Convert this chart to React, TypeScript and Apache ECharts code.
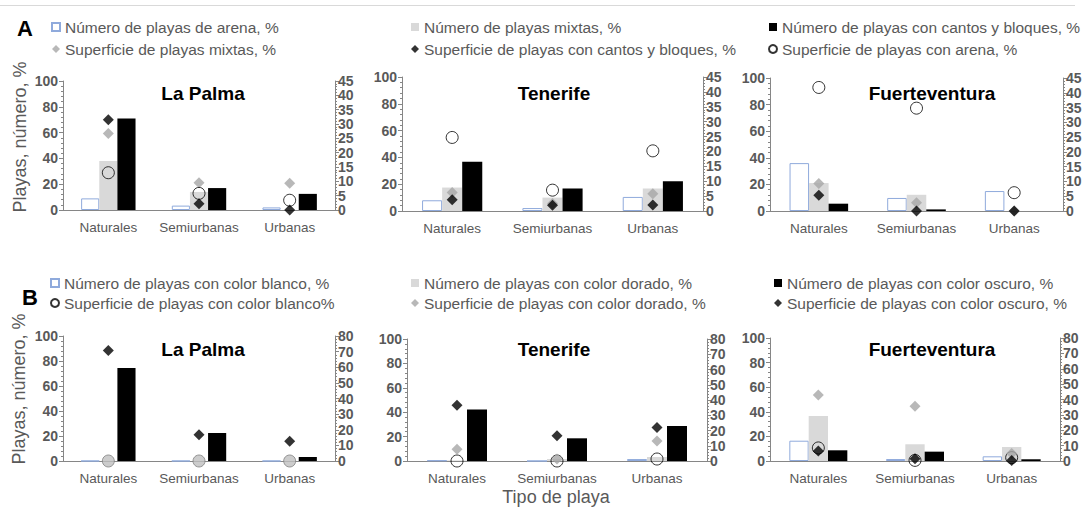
import React, { useEffect, useRef } from "react";
import * as echarts from "echarts";

const FONT = '"Liberation Sans", Arial, Helvetica, sans-serif';

const categories = ["Naturales", "Semiurbanas", "Urbanas"];
const islands = ["La Palma", "Tenerife", "Fuerteventura"];

// Row A series names
const namesBarA = [
  "Número de playas de arena, %",
  "Número de playas mixtas, %",
  "Número de playas con cantos y bloques, %",
];
const namesDotA = [
  "Superficie de playas mixtas, %",
  "Superficie de playas con cantos y bloques, %",
  "Superficie de playas con arena, %",
];
// Row B series names
const namesBarB = [
  "Número de playas con color blanco, %",
  "Número de playas con color dorado, %",
  "Número de playas con color oscuro, %",
];
const namesDotB = [
  "Superficie de playas con color blanco%",
  "Superficie de playas con color dorado, %",
  "Superficie de playas con color oscuro, %",
];

// Row A values, one row per island (La Palma, Tenerife, Fuerteventura)
const numArenaA = [[9, 3.4, 2], [8, 2.2, 10.5], [36, 9.8, 15]];
const numMixtasA = [[38, 14, 0], [17.5, 10, 16.8], [21, 12.2, 0]];
const numCantosA = [[71, 17, 12.5], [36.8, 16.8, 22.2], [5.5, 1.2, 0]];
const supMixtasA = [[26.7, 9.5, 9.3], [6.2, 2.5, 5.8], [9.3, 2.8, 0]];
const supCantosA = [[31.5, 2.2, 0], [3.8, 1.9, 2], [5.3, 0, 0]];
const supArenaA = [[13, 5.8, 3.4], [24.7, 7, 20.2], [41.8, 34.8, 6.2]];

// Row B values
const numBlancoB = [[0, 0, 0], [0.5, 0, 1.6], [16.5, 1.6, 3.8]];
const numDoradoB = [[0, 0, 0], [0.5, 1.6, 3.3], [36.6, 13.6, 11.4]];
const numOscuroB = [[74.4, 22.4, 3.2], [42.3, 18.6, 28.7], [8.7, 7.6, 1.4]];
const supBlancoB = [[0, 0, 0], [0, 0, 1.3], [8.5, 0.4, 2.2]];
const supDoradoB = [[null, null, null], [7.7, 1.3, 13.1], [43, 35.6, 4.8]];
const supOscuroB = [[70.8, 16.8, 12.6], [36.5, 16.6, 22], [6.5, 1.5, 0.4]];

const leftTicks = { min: 0, max: 100, interval: 20 };
const rightTicksA = { min: 0, max: 45, interval: 5 };
const rightTicksB = { min: 0, max: 80, interval: 10 };

const GRIDS = [
  { left: 63, top: 81, width: 272, height: 129 },
  { left: 402, top: 77, width: 301, height: 134 },
  { left: 770, top: 78, width: 293, height: 133 },
  { left: 63, top: 336, width: 272, height: 125 },
  { left: 407, top: 339, width: 300, height: 122 },
  { left: 770, top: 338, width: 290, height: 123 },
];

const AXIS_GRAY = "#868686";
const TEXT_GRAY = "#595959";

const barStyles = [
  { color: "#ffffff", borderColor: "#8FAADC", borderWidth: 1 },
  { color: "#D9D9D9" },
  { color: "#000000" },
];
const grayDiamond = { symbol: "diamond", symbolSize: 11, itemStyle: { color: "#A6A6A6" } };
const blackDiamond = { symbol: "diamond", symbolSize: 11, itemStyle: { color: "#000000" } };
const openCircle = {
  symbol: "circle",
  symbolSize: 12,
  itemStyle: { color: "rgba(255,255,255,0)", borderColor: "#000000", borderWidth: 1 },
};

export default function App() {
  const ref = useRef<HTMLDivElement>(null);
  useEffect(() => {
    if (!ref.current) return;
    const chart = echarts.init(ref.current, undefined, { renderer: "svg" });

    const xAxis = GRIDS.map((_, i) => ({
      type: "category",
      gridIndex: i,
      data: categories,
      axisLine: { lineStyle: { color: AXIS_GRAY, width: 1 } },
      axisTick: { show: false },
      axisLabel: { color: TEXT_GRAY, fontSize: 13.5, margin: 10, interval: 0, hideOverlap: false, fontFamily: FONT },
    }));

    const yAxis: any[] = [];
    GRIDS.forEach((_, i) => {
      const rt = i < 3 ? rightTicksA : rightTicksB;
      yAxis.push({
        type: "value",
        gridIndex: i,
        position: "left",
        ...leftTicks,
        axisLine: { show: true, lineStyle: { color: AXIS_GRAY } },
        axisTick: { show: true, length: 4, lineStyle: { color: AXIS_GRAY } },
        minorTick: { show: true, splitNumber: 5, length: 2, lineStyle: { color: AXIS_GRAY } },
        splitLine: { show: false },
        axisLabel: { color: TEXT_GRAY, fontSize: 14, fontWeight: "bold", margin: 5, fontFamily: FONT },
      });
      yAxis.push({
        type: "value",
        gridIndex: i,
        position: "right",
        ...rt,
        axisLine: { show: true, lineStyle: { color: AXIS_GRAY } },
        axisTick: { show: true, length: 4, lineStyle: { color: AXIS_GRAY } },
        minorTick: { show: true, splitNumber: 5, length: 2, lineStyle: { color: AXIS_GRAY } },
        splitLine: { show: false },
        axisLabel: { color: TEXT_GRAY, fontSize: 14, fontWeight: "bold", margin: 3, fontFamily: FONT },
      });
    });

    const series: any[] = [];
    for (let p = 0; p < 6; p++) {
      const isl = p % 3;
      const rowA = p < 3;
      const barData = rowA
        ? [numArenaA[isl], numMixtasA[isl], numCantosA[isl]]
        : [numBlancoB[isl], numDoradoB[isl], numOscuroB[isl]];
      const barNames = rowA ? namesBarA : namesBarB;
      barData.forEach((d, k) => {
        series.push({
          type: "bar",
          name: barNames[k],
          xAxisIndex: p,
          yAxisIndex: 2 * p,
          data: d,
          barGap: "0%",
          barCategoryGap: "40%",
          itemStyle: barStyles[k],
          z: 2,
        });
      });
      const dotData = rowA
        ? [supMixtasA[isl], supCantosA[isl], supArenaA[isl]]
        : [supBlancoB[isl], supDoradoB[isl], supOscuroB[isl]];
      const dotNames = rowA ? namesDotA : namesDotB;
      const dotStyles = rowA
        ? [grayDiamond, blackDiamond, openCircle]
        : [openCircle, grayDiamond, blackDiamond];
      dotData.forEach((d, k) => {
        const st = dotStyles[k];
        const isCircleLP = !rowA && isl === 0 && st === openCircle;
        series.push({
          type: "scatter",
          name: dotNames[k],
          xAxisIndex: p,
          yAxisIndex: 2 * p + 1,
          symbol: st.symbol,
          symbolSize: st.symbolSize,
          itemStyle: st.itemStyle,
          data: isCircleLP
            ? d.map((v) => ({ value: v, itemStyle: { color: "#BFBFBF", borderColor: "#7F7F7F", borderWidth: 1 } }))
            : d,
          clip: false,
          z: 3 + k,
        });
      });
    }

    const legendBase = {
      orient: "vertical",
      itemWidth: 8,
      itemHeight: 8,
      selectedMode: false,
      textStyle: { color: TEXT_GRAY, fontSize: 15.5, fontFamily: FONT },
      padding: 0,
    };
    const legend = [
      { ...legendBase, left: 51, top: 19, itemGap: 6, data: [{ name: namesBarA[0], icon: "rect" }, { name: namesDotA[0] }] },
      { ...legendBase, left: 411, top: 19, itemGap: 6, data: [{ name: namesBarA[1], icon: "rect" }, { name: namesDotA[1] }] },
      { ...legendBase, left: 768, top: 19, itemGap: 6, data: [{ name: namesBarA[2], icon: "rect" }, { name: namesDotA[2] }] },
      { ...legendBase, left: 50, top: 275, itemGap: 4, data: [{ name: namesBarB[0], icon: "rect" }, { name: namesDotB[0] }] },
      { ...legendBase, left: 411, top: 275, itemGap: 4, data: [{ name: namesBarB[1], icon: "rect" }, { name: namesDotB[1] }] },
      { ...legendBase, left: 774, top: 275, itemGap: 4, data: [{ name: namesBarB[2], icon: "rect" }, { name: namesDotB[2] }] },
    ];

    const titleX = [203, 554, 932];
    const titleY = [93, 349];
    const graphic: any[] = [
      {
        type: "line",
        shape: { x1: 0, y1: 5.5, x2: 1075, y2: 5.5 },
        style: { stroke: "#D9D9D9", lineWidth: 1 },
      },
      {
        type: "text",
        x: 17,
        y: 28,
        style: { text: "A", fill: "#000", font: `bold 22px ${FONT}`, align: "left", verticalAlign: "middle", textAlign: "left", textVerticalAlign: "middle" },
      },
      {
        type: "text",
        x: 22,
        y: 297,
        style: { text: "B", fill: "#000", font: `bold 22px ${FONT}`, align: "left", verticalAlign: "middle", textAlign: "left", textVerticalAlign: "middle" },
      },
      {
        type: "text",
        x: 20,
        y: 137,
        rotation: Math.PI / 2,
        style: { text: "Playas, número, %", fill: TEXT_GRAY, font: `18px ${FONT}`, align: "center", verticalAlign: "middle", textAlign: "center", textVerticalAlign: "middle" },
      },
      {
        type: "text",
        x: 19,
        y: 389,
        rotation: Math.PI / 2,
        style: { text: "Playas, número, %", fill: TEXT_GRAY, font: `18px ${FONT}`, align: "center", verticalAlign: "middle", textAlign: "center", textVerticalAlign: "middle" },
      },
      {
        type: "text",
        x: 556,
        y: 497,
        style: { text: "Tipo de playa", fill: TEXT_GRAY, font: `18px ${FONT}`, align: "center", verticalAlign: "middle", textAlign: "center", textVerticalAlign: "middle" },
      },
    ];
    titleY.forEach((ty) => {
      islands.forEach((name, i) => {
        graphic.push({
          type: "text",
          x: titleX[i],
          y: ty,
          style: { text: name, fill: "#000", font: `bold 19px ${FONT}`, align: "center", verticalAlign: "middle", textAlign: "center", textVerticalAlign: "middle" },
        });
      });
    });

    chart.setOption({
      animation: false,
      backgroundColor: "#ffffff",
      textStyle: { fontFamily: FONT },
      grid: GRIDS.map((g) => ({ ...g, containLabel: false })),
      xAxis,
      yAxis,
      legend,
      series,
      graphic,
    });
    return () => chart.dispose();
  }, []);

  return (
    <div
      ref={ref}
      style={{ position: "absolute", left: 0, top: 0, width: 1085, height: 508, background: "#fff" }}
    />
  );
}
